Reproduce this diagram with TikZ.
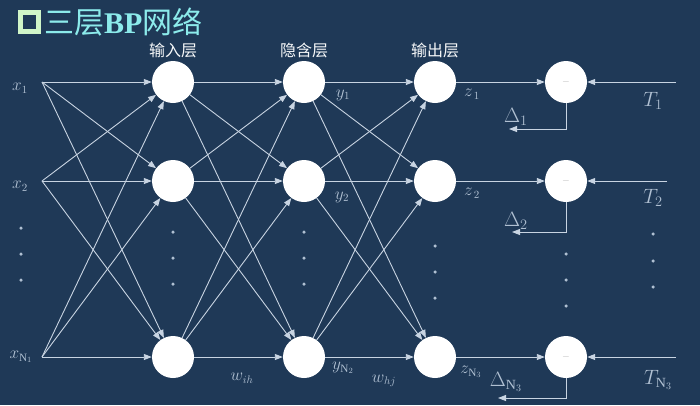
\documentclass[tikz,border=0pt]{standalone}
\usepackage{fontspec}
\setmainfont{Liberation Serif}
\newfontfamily\cjk{Noto Sans CJK SC}
\usepackage{tikz}
\usetikzlibrary{arrows.meta}
\definecolor{bgblue}{RGB}{31,57,87}
\definecolor{linegray}{RGB}{200,212,226}
\definecolor{labgray}{RGB}{176,192,210}
\definecolor{titlecyan}{RGB}{140,235,235}
\definecolor{boxgreen}{RGB}{208,245,200}
\tikzset{
  neuron/.style={circle,fill=white,minimum size=42pt,inner sep=0pt},
  conn/.style={draw=linegray,line width=0.9pt,-{Triangle[length=8pt,width=6pt]}},
  lab/.style={text=labgray,font=\fontsize{16}{16}\selectfont,inner sep=0pt},
  biglab/.style={text=labgray,font=\fontsize{20}{20}\selectfont,inner sep=0pt},
  head/.style={text=white!90!labgray,font=\cjk\fontsize{16}{16}\selectfont},
  vdot/.style={circle,fill=labgray,inner sep=0pt,minimum size=3.5pt}
}

\begin{document}
\begin{tikzpicture}[x=1pt,y=-1pt]
\fill[bgblue] (0,0) rectangle (700,405);
% title
\draw[boxgreen,line width=4.5pt] (20.5,12.5) rectangle (38.5,31.5);
\node[anchor=west,text=titlecyan,inner sep=0pt] (title) at (44,22)
  {\cjk\fontsize{30}{30}\selectfont 三层{\rmfamily\bfseries BP}网络};
% layer names
\node[head] (hin) at (173,50) {输入层};
\node[head] (hhd) at (304,50) {隐含层};
\node[head] (hout) at (435,50) {输出层};
% neurons
\foreach \i/\y in {1/82,2/181,3/357} {
    \coordinate (x\i) at (42,\y);
    \node[neuron] (in\i) at (173,\y) {};
    \node[neuron] (hd\i) at (304,\y) {};
    \node[neuron] (out\i) at (435,\y) {};
    \node[neuron] (cmp\i) at (566,\y) {\textcolor{gray!60}{\fontsize{10}{10}\selectfont$-$}};
}
\coordinate (t1) at (676,82);
\coordinate (t2) at (667,181);
\coordinate (t3) at (676,357);
\coordinate (d1) at (509,129);
\coordinate (d2) at (512,232);
\coordinate (d3) at (498,398);
% full connections
\foreach \a in {1,2,3} {
    \foreach \b in {1,2,3} {
        \draw[conn] (x\a) -- (in\b);
        \draw[conn] (in\a) -- (hd\b);
        \draw[conn] (hd\a) -- (out\b);
    }
    \draw[conn] (out\a) -- (cmp\a);
    \draw[conn] (t\a) -- (cmp\a);
    \draw[conn] (cmp\a.south) |- (d\a);
}
% dots
\foreach \y in {228,254,280} \node[vdot] at (21,\y) {};
\foreach \y in {232,258,284} {
    \node[vdot] at (173,\y) {};
    \node[vdot] at (304,\y) {};
}
\foreach \y in {246,272,298} \node[vdot] at (435,\y) {};
\foreach \y in {254,280,306} \node[vdot] at (566,\y) {};
\foreach \y in {234,261,287} \node[vdot] at (653,\y) {};
% labels
\node[lab] (lx1) at (20,88) {$x_1$};
\node[lab] (lx2) at (20,186) {$x_2$};
\node[lab] (lx3) at (21,357) {$x_{\mathrm{N}_1}$};
\node[lab] (ly1) at (343,95) {$y_1$};
\node[lab] (ly2) at (342,197) {$y_2$};
\node[lab] (ly3) at (343,368) {$y_{\mathrm{N}_2}$};
\node[lab] (lz1) at (472,94) {$z_{\,1}$};
\node[lab] (lz2) at (472,193) {$z_{\,2}$};
\node[lab] (lz3) at (471,372) {$z_{\mathrm{N}_3}$};
\node[lab] (lwih) at (242,378) {$w_{ih}$};
\node[lab] (lwhj) at (384,381) {$w_{hj}$};
\node[biglab] (ld1) at (516,117) {$\Delta_1$};
\node[biglab] (ld2) at (516,221) {$\Delta_2$};
\node[biglab] (ld3) at (506,382) {$\Delta_{\mathrm{N}_3}$};
\node[biglab] (lt1) at (653,101) {$T_1$};
\node[biglab] (lt2) at (653,198) {$T_2$};
\node[biglab] (lt3) at (658,380) {$T_{\mathrm{N}_3}$};
\end{tikzpicture}
\end{document}
